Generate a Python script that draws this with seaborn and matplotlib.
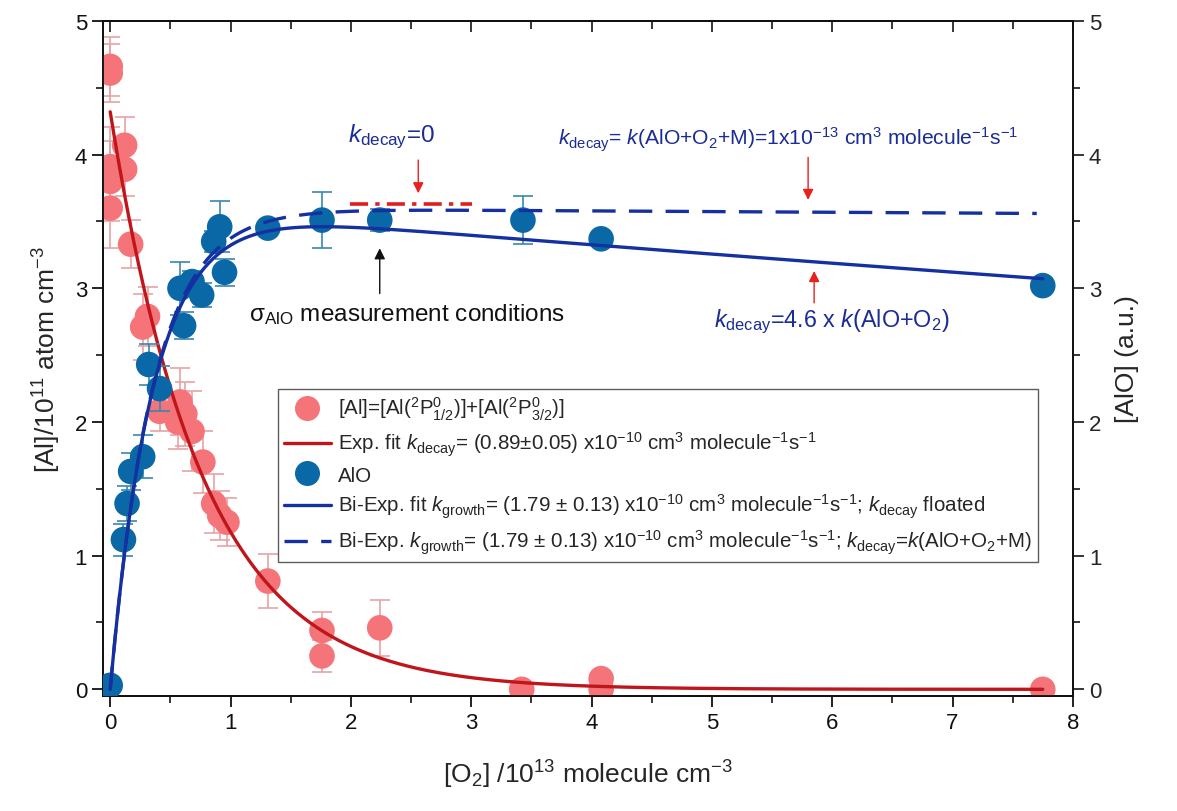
import numpy as np
import matplotlib
matplotlib.use('Agg')
import matplotlib.pyplot as plt
import seaborn as sns
from matplotlib.lines import Line2D

# [Al] data (red), x in 1e13 molecule cm-3, y in 1e11 atom cm-3
al_x = [0.0, 0.0, 0.0, 0.0, 0.0, 0.12, 0.12, 0.17, 0.27, 0.31, 0.41, 0.58, 0.62,
        0.56, 0.68, 0.77, 0.86, 0.91, 0.97, 1.31, 1.76, 1.76, 2.24, 3.42, 4.08, 4.08, 7.75]
al_y = [4.66, 4.61, 3.91, 3.80, 3.60, 4.07, 3.89, 3.33, 2.71, 2.79, 2.08, 2.15, 2.06,
        2.00, 1.93, 1.70, 1.39, 1.30, 1.25, 0.81, 0.44, 0.25, 0.46, 0.00, 0.08, 0.00, 0.00]
al_err = [0.22, 0.22, 0.30, 0.30, 0.30, 0.21, 0.20, 0.18, 0.25, 0.22, 0.15, 0.25, 0.24,
          0.20, 0.30, 0.23, 0.22, 0.18, 0.18, 0.20, 0.14, 0.12, 0.21, 0.0, 0.0, 0.0, 0.0]

# [AlO] data (blue), a.u.
alo_x = [0.0, 0.11, 0.14, 0.17, 0.27, 0.32, 0.41, 0.58, 0.61, 0.68, 0.76, 0.86, 0.91,
         0.95, 1.31, 1.76, 2.24, 3.43, 4.08, 7.75]
alo_y = [0.03, 1.12, 1.39, 1.63, 1.74, 2.43, 2.25, 3.00, 2.72, 3.05, 2.95, 3.35, 3.46,
         3.12, 3.45, 3.51, 3.51, 3.51, 3.37, 3.02]
alo_err = [0.05, 0.12, 0.13, 0.14, 0.16, 0.15, 0.17, 0.20, 0.10, 0.08, 0.09, 0.08, 0.19,
           0.10, 0.05, 0.21, 0.08, 0.18, 0.0, 0.0]

# fit parameters
exp_amp, exp_k = 4.32, 1.30
bi_amp, bi_grow, bi_decay = 3.62, 2.79, 0.0212
bi2_amp, bi2_decay = 3.60, 0.00146
flat_x = [1.99, 3.01]
flat_y = [3.63, 3.63]

c_al = '#F47479'
c_al_err = '#E7A3A6'
c_al_fit = '#C0161B'
c_alo = '#0B68A6'
c_alo_err = '#3A86B2'
c_alo_fit = '#1530A0'
c_text = '#1A2C96'

sns.set_style('ticks')
plt.rcParams['font.family'] = ['Liberation Sans', 'DejaVu Sans']
plt.rcParams['mathtext.fontset'] = 'custom'
plt.rcParams['mathtext.rm'] = 'Liberation Sans'
plt.rcParams['mathtext.it'] = 'Liberation Sans:italic'
plt.rcParams['mathtext.bf'] = 'Liberation Sans:bold'

fig = plt.figure(figsize=(11.77, 8.12), dpi=100)
ax = fig.add_axes([0.0875, 0.1416, 0.824, 0.8314])
ax2 = ax.twinx()

# error bars
ax.errorbar(al_x, al_y, yerr=al_err, fmt='none', ecolor=c_al_err, elinewidth=1.2,
            capsize=7, capthick=1.2, zorder=2)
ax2.errorbar(alo_x, alo_y, yerr=alo_err, fmt='none', ecolor=c_alo_err, elinewidth=1.2,
             capsize=7, capthick=1.2, zorder=2)

sns.scatterplot(x=al_x, y=al_y, ax=ax, color=c_al, s=340, edgecolor='none', zorder=3)
sns.scatterplot(x=alo_x, y=alo_y, ax=ax2, color=c_alo, s=340, edgecolor='none', zorder=3)

xf = np.linspace(0, 7.75, 400)
ax.plot(xf, exp_amp * np.exp(-exp_k * xf), color=c_al_fit, lw=2.4, zorder=4)
ax2.plot(xf, bi_amp * (np.exp(-bi_decay * xf) - np.exp(-bi_grow * xf)),
         color=c_alo_fit, lw=2.4, zorder=4)
xd = np.linspace(0, 7.7, 400)
ax2.plot(xd, bi2_amp * (np.exp(-bi2_decay * xd) - np.exp(-bi_grow * xd)),
         color=c_alo_fit, lw=2.4, dashes=(7, 4), zorder=4)
ax2.plot(flat_x, flat_y, color='#E0201E', lw=2.6, dashes=(5, 2, 1.2, 2), zorder=4)

# arrows
arrow_kw = dict(arrowstyle='-|>', mutation_scale=16, lw=1.0)
ax2.annotate('', xy=(2.56, 3.69), xytext=(2.56, 3.98),
             arrowprops=dict(color='#E8201E', **arrow_kw))
ax2.annotate('', xy=(5.8, 3.64), xytext=(5.8, 4.0),
             arrowprops=dict(color='#E8201E', **arrow_kw))
ax2.annotate('', xy=(5.85, 3.15), xytext=(5.85, 2.87),
             arrowprops=dict(color='#E8201E', **arrow_kw))
ax2.annotate('', xy=(2.24, 3.32), xytext=(2.24, 2.94),
             arrowprops=dict(color='#111111', **arrow_kw))

ax2.text(1.98, 4.14, r'$k_{\rm decay}$=0', color=c_text, fontsize=17.5, va='center')
ax2.text(3.72, 4.12, r'$k_{\rm decay}$= $k$(AlO+O$_2$+M)=1x10$^{-13}$ cm$^3$ molecule$^{-1}$s$^{-1}$',
         color=c_text, fontsize=15.2, va='center')
ax2.text(1.15, 2.81, r'σ$_{\rm AlO}$ measurement conditions', color='#111111',
         fontsize=17.5, va='center')
ax2.text(5.02, 2.76, r'$k_{\rm decay}$=4.6 x $k$(AlO+O$_2$)', color=c_text,
         fontsize=16.8, va='center')

# legend
handles = [
    Line2D([], [], marker='o', ls='none', color=c_al, markersize=17),
    Line2D([], [], color=c_al_fit, lw=2.4),
    Line2D([], [], marker='o', ls='none', color=c_alo, markersize=17),
    Line2D([], [], color=c_alo_fit, lw=2.4),
    Line2D([], [], color=c_alo_fit, lw=2.4, dashes=(7, 4)),
]
labels = [
    r'[Al]=[Al($^2$P$^0_{1/2}$)]+[Al($^2$P$^0_{3/2}$)]',
    r'Exp. fit $k_{\rm decay}$= (0.89$\pm$0.05) x10$^{-10}$ cm$^3$ molecule$^{-1}$s$^{-1}$',
    'AlO',
    r'Bi-Exp. fit $k_{\rm growth}$= (1.79 $\pm$ 0.13) x10$^{-10}$ cm$^3$ molecule$^{-1}$s$^{-1}$; $k_{\rm decay}$ floated',
    r'Bi-Exp. $k_{\rm growth}$= (1.79 $\pm$ 0.13) x10$^{-10}$ cm$^3$ molecule$^{-1}$s$^{-1}$; $k_{\rm decay}$=$k$(AlO+O$_2$+M)',
]
leg = ax2.legend(handles, labels, loc='upper left', bbox_to_anchor=(0.18, 0.455),
                 fontsize=14.8, frameon=True, fancybox=False, edgecolor='#333333',
                 handlelength=2.3, handletextpad=0.35, labelspacing=0.36,
                 borderpad=0.3, borderaxespad=0)
leg.get_frame().set_linewidth(1.0)

for a in (ax, ax2):
    a.set_xlim(-0.06, 8)
    a.set_ylim(-0.05, 5)
    a.set_yticks([0, 1, 2, 3, 4, 5])
    a.set_yticks(np.arange(0, 5.01, 0.5), minor=True)

ax.set_xticks(range(9))
ax.set_xticks(np.arange(0, 8.01, 0.5), minor=True)
ax.tick_params(axis='both', which='major', direction='out', length=8, width=1.3,
               labelsize=16, colors='#111111')
ax.tick_params(axis='both', which='minor', direction='out', length=5, width=1.3)
ax2.tick_params(axis='y', which='major', direction='out', length=8, width=1.3,
                labelsize=16)
ax2.tick_params(axis='y', which='minor', direction='out', length=5, width=1.3)

top = ax.secondary_xaxis('top')
top.set_xticks(range(9))
top.set_xticks(np.arange(0, 8.01, 0.5), minor=True)
top.tick_params(which='major', direction='in', length=8, width=1.3, labeltop=False)
top.tick_params(which='minor', direction='in', length=6, width=1.3)

for a in (ax, ax2, top):
    for s in a.spines.values():
        s.set_linewidth(1.3)
        s.set_color('#111111')

ax.set_xlabel(r'[O$_2$] /10$^{13}$ molecule cm$^{-3}$', fontsize=19, labelpad=18)
ax.set_ylabel(r'[Al]/10$^{11}$ atom cm$^{-3}$', fontsize=19, labelpad=8)
ax2.set_ylabel('[AlO] (a.u.)', fontsize=19, labelpad=10)

fig.savefig('out.png', dpi=100)
